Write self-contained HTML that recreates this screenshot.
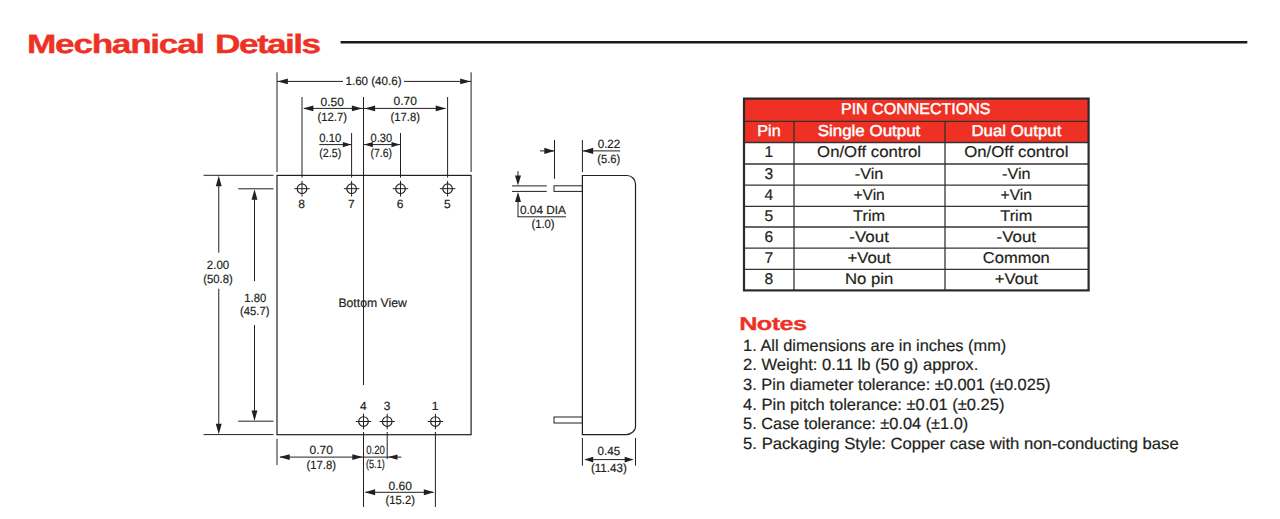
<!DOCTYPE html>
<html lang="en">
<head>
<meta charset="utf-8">
<title>Mechanical Details</title>
<style>
html,body{margin:0;padding:0;background:#fff;}
body{width:1280px;height:519px;overflow:hidden;}
svg{display:block;font-family:"Liberation Sans",sans-serif;}
svg text{white-space:pre;text-rendering:geometricPrecision;}
</style>
</head>
<body>
<svg width="1280" height="519" viewBox="0 0 1280 519">
<rect width="1280" height="519" fill="#ffffff"/>
<text transform="translate(27.1,53) scale(1.32,1)" font-size="26.7" font-weight="bold" fill="#ee3124" stroke="#ee3124" stroke-width="0.4" stroke-linejoin="round"><tspan letter-spacing="-1">Mechanical </tspan><tspan x="142.4" letter-spacing="-1.2">Details</tspan></text>
<line x1="340.6" y1="42.2" x2="1247.3" y2="42.2" stroke="#1a1a1a" stroke-width="2.4"/>
<rect x="277" y="175.4" width="194.1" height="259.3" fill="none" stroke="#231f20" stroke-width="1.2"/>
<line x1="277" y1="72.3" x2="277" y2="172" stroke="#231f20" stroke-width="1.0"/>
<line x1="471.1" y1="72.3" x2="471.1" y2="172" stroke="#231f20" stroke-width="1.0"/>
<line x1="277" y1="81.4" x2="343" y2="81.4" stroke="#231f20" stroke-width="1.0"/>
<line x1="404" y1="81.4" x2="471.1" y2="81.4" stroke="#231f20" stroke-width="1.0"/>
<polygon points="277.5,81.4 287.9,78.45 287.9,84.35" fill="#231f20"/>
<polygon points="470.6,81.4 460.2,78.45 460.2,84.35" fill="#231f20"/>
<text x="373.5" y="85.3" font-size="12" text-anchor="middle" fill="#231f20" textLength="56" lengthAdjust="spacingAndGlyphs" stroke="#231f20" stroke-width="0.2">1.60 (40.6)</text>
<circle cx="302" cy="188.7" r="4.8" fill="none" stroke="#231f20" stroke-width="1.15"/>
<line x1="294.3" y1="188.7" x2="309.7" y2="188.7" stroke="#231f20" stroke-width="1.0"/>
<line x1="302" y1="180.9" x2="302" y2="196.5" stroke="#231f20" stroke-width="1.0"/>
<circle cx="351.6" cy="188.7" r="4.8" fill="none" stroke="#231f20" stroke-width="1.15"/>
<line x1="343.9" y1="188.7" x2="359.3" y2="188.7" stroke="#231f20" stroke-width="1.0"/>
<line x1="351.6" y1="180.9" x2="351.6" y2="196.5" stroke="#231f20" stroke-width="1.0"/>
<circle cx="400.5" cy="188.7" r="4.8" fill="none" stroke="#231f20" stroke-width="1.15"/>
<line x1="392.8" y1="188.7" x2="408.2" y2="188.7" stroke="#231f20" stroke-width="1.0"/>
<line x1="400.5" y1="180.9" x2="400.5" y2="196.5" stroke="#231f20" stroke-width="1.0"/>
<circle cx="447.6" cy="188.7" r="4.8" fill="none" stroke="#231f20" stroke-width="1.15"/>
<line x1="439.9" y1="188.7" x2="455.3" y2="188.7" stroke="#231f20" stroke-width="1.0"/>
<line x1="447.6" y1="180.9" x2="447.6" y2="196.5" stroke="#231f20" stroke-width="1.0"/>
<line x1="302" y1="97" x2="302" y2="177.6" stroke="#231f20" stroke-width="1.0"/>
<line x1="447.6" y1="97" x2="447.6" y2="177.6" stroke="#231f20" stroke-width="1.0"/>
<line x1="351.6" y1="133" x2="351.6" y2="177.6" stroke="#231f20" stroke-width="1.0"/>
<line x1="400.5" y1="133" x2="400.5" y2="177.6" stroke="#231f20" stroke-width="1.0"/>
<line x1="363.5" y1="97" x2="363.5" y2="385" stroke="#231f20" stroke-width="1.0"/>
<line x1="304" y1="108.4" x2="445.6" y2="108.4" stroke="#231f20" stroke-width="1.0"/>
<polygon points="303,108.4 313.4,105.45 313.4,111.35" fill="#231f20"/>
<polygon points="362.3,108.4 351.9,105.45 351.9,111.35" fill="#231f20"/>
<polygon points="364.7,108.4 375.1,105.45 375.1,111.35" fill="#231f20"/>
<polygon points="446.1,108.4 435.7,105.45 435.7,111.35" fill="#231f20"/>
<text x="332.2" y="106" font-size="12" text-anchor="middle" fill="#231f20" stroke="#231f20" stroke-width="0.2">0.50</text>
<text x="332.2" y="121.3" font-size="12" text-anchor="middle" fill="#231f20" textLength="29.4" lengthAdjust="spacingAndGlyphs" stroke="#231f20" stroke-width="0.2">(12.7)</text>
<text x="405.2" y="105" font-size="12" text-anchor="middle" fill="#231f20" stroke="#231f20" stroke-width="0.2">0.70</text>
<text x="405.2" y="120.6" font-size="12" text-anchor="middle" fill="#231f20" textLength="29.4" lengthAdjust="spacingAndGlyphs" stroke="#231f20" stroke-width="0.2">(17.8)</text>
<line x1="319.3" y1="144.6" x2="351.6" y2="144.6" stroke="#231f20" stroke-width="1.0"/>
<polygon points="351.3,144.6 342.8,142.0 342.8,147.2" fill="#231f20"/>
<line x1="363.5" y1="144.6" x2="400.5" y2="144.6" stroke="#231f20" stroke-width="1.0"/>
<polygon points="364.3,144.6 372.8,142.0 372.8,147.2" fill="#231f20"/>
<polygon points="400.0,144.6 391.5,142.0 391.5,147.2" fill="#231f20"/>
<text x="330.3" y="142" font-size="12" text-anchor="middle" fill="#231f20" textLength="22" lengthAdjust="spacingAndGlyphs" stroke="#231f20" stroke-width="0.2">0.10</text>
<text x="330.3" y="157" font-size="12" text-anchor="middle" fill="#231f20" textLength="22" lengthAdjust="spacingAndGlyphs" stroke="#231f20" stroke-width="0.2">(2.5)</text>
<text x="381.3" y="142" font-size="12" text-anchor="middle" fill="#231f20" textLength="21.5" lengthAdjust="spacingAndGlyphs" stroke="#231f20" stroke-width="0.2">0.30</text>
<text x="381.3" y="157" font-size="12" text-anchor="middle" fill="#231f20" textLength="21.5" lengthAdjust="spacingAndGlyphs" stroke="#231f20" stroke-width="0.2">(7.6)</text>
<text x="301.7" y="208.1" font-size="12" text-anchor="middle" fill="#231f20" stroke="#231f20" stroke-width="0.2">8</text>
<text x="351.3" y="208.1" font-size="12" text-anchor="middle" fill="#231f20" stroke="#231f20" stroke-width="0.2">7</text>
<text x="400.2" y="208.1" font-size="12" text-anchor="middle" fill="#231f20" stroke="#231f20" stroke-width="0.2">6</text>
<text x="447.3" y="208.1" font-size="12" text-anchor="middle" fill="#231f20" stroke="#231f20" stroke-width="0.2">5</text>
<line x1="203.6" y1="175.3" x2="273.5" y2="175.3" stroke="#231f20" stroke-width="1.0"/>
<line x1="203.6" y1="434.6" x2="273.5" y2="434.6" stroke="#231f20" stroke-width="1.0"/>
<line x1="238.2" y1="188.8" x2="273.5" y2="188.8" stroke="#231f20" stroke-width="1.0"/>
<line x1="238.2" y1="421.2" x2="273.5" y2="421.2" stroke="#231f20" stroke-width="1.0"/>
<line x1="218.75" y1="180" x2="218.75" y2="252.7" stroke="#231f20" stroke-width="1.0"/>
<line x1="218.75" y1="288.75" x2="218.75" y2="430" stroke="#231f20" stroke-width="1.0"/>
<polygon points="218.75,175.8 215.8,186.2 221.7,186.2" fill="#231f20"/>
<polygon points="218.75,434.2 215.8,423.8 221.7,423.8" fill="#231f20"/>
<line x1="254.5" y1="193" x2="254.5" y2="281.2" stroke="#231f20" stroke-width="1.0"/>
<line x1="254.5" y1="325" x2="254.5" y2="416" stroke="#231f20" stroke-width="1.0"/>
<polygon points="254.5,189.3 251.55,199.7 257.45,199.7" fill="#231f20"/>
<polygon points="254.5,421 251.55,410.6 257.45,410.6" fill="#231f20"/>
<text x="218" y="269.4" font-size="12" text-anchor="middle" fill="#231f20" textLength="22.3" lengthAdjust="spacingAndGlyphs" stroke="#231f20" stroke-width="0.2">2.00</text>
<text x="218" y="283.3" font-size="12" text-anchor="middle" fill="#231f20" textLength="29.4" lengthAdjust="spacingAndGlyphs" stroke="#231f20" stroke-width="0.2">(50.8)</text>
<text x="255.3" y="301.6" font-size="12" text-anchor="middle" fill="#231f20" textLength="22" lengthAdjust="spacingAndGlyphs" stroke="#231f20" stroke-width="0.2">1.80</text>
<text x="254.8" y="315.3" font-size="12" text-anchor="middle" fill="#231f20" textLength="29.4" lengthAdjust="spacingAndGlyphs" stroke="#231f20" stroke-width="0.2">(45.7)</text>
<text x="372.6" y="306.8" font-size="12.4" text-anchor="middle" fill="#231f20" textLength="68.3" lengthAdjust="spacingAndGlyphs" stroke="#231f20" stroke-width="0.2">Bottom View</text>
<circle cx="363.5" cy="421.5" r="4.8" fill="none" stroke="#231f20" stroke-width="1.15"/>
<line x1="355.8" y1="421.5" x2="371.2" y2="421.5" stroke="#231f20" stroke-width="1.0"/>
<line x1="363.5" y1="413.7" x2="363.5" y2="429.3" stroke="#231f20" stroke-width="1.0"/>
<circle cx="387.2" cy="421.5" r="4.8" fill="none" stroke="#231f20" stroke-width="1.15"/>
<line x1="379.5" y1="421.5" x2="394.9" y2="421.5" stroke="#231f20" stroke-width="1.0"/>
<line x1="387.2" y1="413.7" x2="387.2" y2="429.3" stroke="#231f20" stroke-width="1.0"/>
<circle cx="435.4" cy="421.5" r="4.8" fill="none" stroke="#231f20" stroke-width="1.15"/>
<line x1="427.7" y1="421.5" x2="443.1" y2="421.5" stroke="#231f20" stroke-width="1.0"/>
<line x1="435.4" y1="413.7" x2="435.4" y2="429.3" stroke="#231f20" stroke-width="1.0"/>
<text x="363.3" y="410.2" font-size="12" text-anchor="middle" fill="#231f20" stroke="#231f20" stroke-width="0.2">4</text>
<text x="387.0" y="410.2" font-size="12" text-anchor="middle" fill="#231f20" stroke="#231f20" stroke-width="0.2">3</text>
<text x="435.2" y="410.2" font-size="12" text-anchor="middle" fill="#231f20" stroke="#231f20" stroke-width="0.2">1</text>
<line x1="363.5" y1="432" x2="363.5" y2="507" stroke="#231f20" stroke-width="1.0"/>
<line x1="435.4" y1="432" x2="435.4" y2="507" stroke="#231f20" stroke-width="1.0"/>
<line x1="387.2" y1="432" x2="387.2" y2="459" stroke="#231f20" stroke-width="1.0"/>
<line x1="277" y1="438.75" x2="277" y2="465" stroke="#231f20" stroke-width="1.0"/>
<line x1="280" y1="457.1" x2="387.2" y2="457.1" stroke="#231f20" stroke-width="1.0"/>
<polygon points="279.3,457.1 289.7,454.15 289.7,460.05" fill="#231f20"/>
<polygon points="362.7,457.1 352.3,454.15 352.3,460.05" fill="#231f20"/>
<polygon points="388.0,457.1 397.5,454.5 397.5,459.7" fill="#231f20"/>
<line x1="387.2" y1="457.1" x2="401.3" y2="457.1" stroke="#231f20" stroke-width="1.0"/>
<text x="321.25" y="454.4" font-size="12" text-anchor="middle" fill="#231f20" stroke="#231f20" stroke-width="0.2">0.70</text>
<text x="321.25" y="469.4" font-size="12" text-anchor="middle" fill="#231f20" textLength="29.4" lengthAdjust="spacingAndGlyphs" stroke="#231f20" stroke-width="0.2">(17.8)</text>
<text x="375.6" y="454.1" font-size="12" text-anchor="middle" fill="#231f20" textLength="18.75" lengthAdjust="spacingAndGlyphs" stroke="#231f20" stroke-width="0.2">0.20</text>
<text x="375.4" y="468.4" font-size="12" text-anchor="middle" fill="#231f20" textLength="18.75" lengthAdjust="spacingAndGlyphs" stroke="#231f20" stroke-width="0.2">(5.1)</text>
<line x1="365.5" y1="492.3" x2="433.4" y2="492.3" stroke="#231f20" stroke-width="1.0"/>
<polygon points="364.7,492.3 375.1,489.35 375.1,495.25" fill="#231f20"/>
<polygon points="434.2,492.3 423.8,489.35 423.8,495.25" fill="#231f20"/>
<text x="400.2" y="490.2" font-size="12" text-anchor="middle" fill="#231f20" stroke="#231f20" stroke-width="0.2">0.60</text>
<text x="400.2" y="504.4" font-size="12" text-anchor="middle" fill="#231f20" textLength="29.4" lengthAdjust="spacingAndGlyphs" stroke="#231f20" stroke-width="0.2">(15.2)</text>
<path d="M582.4,175.5 H627.0 C631.69,175.5 635.5,179.31 635.5,184.0 V427.1 C635.5,430.3 631.6,434.6 626.0,434.6 H582.4 Z" fill="none" stroke="#231f20" stroke-width="1.2"/>
<rect x="554" y="185.8" width="28.4" height="5.6" fill="none" stroke="#231f20" stroke-width="1"/>
<rect x="554" y="417" width="28.4" height="6" fill="none" stroke="#231f20" stroke-width="1"/>
<line x1="554.5" y1="140" x2="554.5" y2="178.8" stroke="#231f20" stroke-width="1.0"/>
<line x1="582.4" y1="140" x2="582.4" y2="172.2" stroke="#231f20" stroke-width="1.0"/>
<line x1="540" y1="150.9" x2="554" y2="150.9" stroke="#231f20" stroke-width="1.0"/>
<polygon points="554.3,150.9 544.3,147.8 544.3,154.0" fill="#231f20"/>
<line x1="582.4" y1="150.9" x2="620.2" y2="150.9" stroke="#231f20" stroke-width="1.0"/>
<polygon points="582.7,150.9 593.2,147.8 593.2,154.0" fill="#231f20"/>
<text x="609" y="148" font-size="12" text-anchor="middle" fill="#231f20" textLength="22.6" lengthAdjust="spacingAndGlyphs" stroke="#231f20" stroke-width="0.2">0.22</text>
<text x="608.7" y="163" font-size="12" text-anchor="middle" fill="#231f20" textLength="23" lengthAdjust="spacingAndGlyphs" stroke="#231f20" stroke-width="0.2">(5.6)</text>
<line x1="512" y1="185.9" x2="546.75" y2="185.9" stroke="#231f20" stroke-width="1.0"/>
<line x1="512" y1="191.4" x2="546.75" y2="191.4" stroke="#231f20" stroke-width="1.0"/>
<line x1="518" y1="171.2" x2="518" y2="180" stroke="#231f20" stroke-width="1.0"/>
<polygon points="518,185.4 515.0,175.6 521.0,175.6" fill="#231f20"/>
<polygon points="518,191.9 515.0,201.9 521.0,201.9" fill="#231f20"/>
<line x1="518" y1="196" x2="518" y2="216.8" stroke="#231f20" stroke-width="1.0"/>
<line x1="517.5" y1="216.8" x2="566" y2="216.8" stroke="#231f20" stroke-width="1.0"/>
<text x="543" y="214" font-size="12" text-anchor="middle" fill="#231f20" textLength="46" lengthAdjust="spacingAndGlyphs" stroke="#231f20" stroke-width="0.2">0.04 DIA</text>
<text x="543" y="228.3" font-size="12" text-anchor="middle" fill="#231f20" textLength="23.2" lengthAdjust="spacingAndGlyphs" stroke="#231f20" stroke-width="0.2">(1.0)</text>
<line x1="582.4" y1="438" x2="582.4" y2="465.7" stroke="#231f20" stroke-width="1.0"/>
<line x1="635.5" y1="438" x2="635.5" y2="465.7" stroke="#231f20" stroke-width="1.0"/>
<line x1="585.4" y1="459.6" x2="632.5" y2="459.6" stroke="#231f20" stroke-width="1.0"/>
<polygon points="584.4,459.6 593.2,456.8 593.2,462.4" fill="#231f20"/>
<polygon points="633.5,459.6 624.7,456.8 624.7,462.4" fill="#231f20"/>
<text x="608.9" y="454.8" font-size="12" text-anchor="middle" fill="#231f20" textLength="22.6" lengthAdjust="spacingAndGlyphs" stroke="#231f20" stroke-width="0.2">0.45</text>
<text x="608.9" y="472" font-size="12" text-anchor="middle" fill="#231f20" textLength="36" lengthAdjust="spacingAndGlyphs" stroke="#231f20" stroke-width="0.2">(11.43)</text>
<rect x="744" y="98.6" width="344.6" height="43.9" fill="#ee3124"/>
<line x1="744" y1="121.3" x2="1088.6" y2="121.3" stroke="#363233" stroke-width="1.3"/>
<line x1="744" y1="142.5" x2="1088.6" y2="142.5" stroke="#363233" stroke-width="1.3"/>
<line x1="744" y1="164" x2="1088.6" y2="164" stroke="#363233" stroke-width="1.3"/>
<line x1="744" y1="185.1" x2="1088.6" y2="185.1" stroke="#363233" stroke-width="1.3"/>
<line x1="744" y1="206.3" x2="1088.6" y2="206.3" stroke="#363233" stroke-width="1.3"/>
<line x1="744" y1="227" x2="1088.6" y2="227" stroke="#363233" stroke-width="1.3"/>
<line x1="744" y1="248.2" x2="1088.6" y2="248.2" stroke="#363233" stroke-width="1.3"/>
<line x1="744" y1="269.4" x2="1088.6" y2="269.4" stroke="#363233" stroke-width="1.3"/>
<line x1="794" y1="121.3" x2="794" y2="290.4" stroke="#363233" stroke-width="1.3"/>
<line x1="945" y1="121.3" x2="945" y2="290.4" stroke="#363233" stroke-width="1.3"/>
<rect x="744" y="98.6" width="344.6" height="191.8" fill="none" stroke="#2d292a" stroke-width="2.2"/>
<text x="915.75" y="114" font-size="15.7" text-anchor="middle" fill="#fff" textLength="149.6" lengthAdjust="spacingAndGlyphs" stroke="#ffffff" stroke-width="0.45">PIN CONNECTIONS</text>
<text x="769" y="136" font-size="15.7" text-anchor="middle" fill="#fff" textLength="23.4" lengthAdjust="spacingAndGlyphs" stroke="#ffffff" stroke-width="0.45">Pin</text>
<text x="869" y="136" font-size="15.7" text-anchor="middle" fill="#fff" textLength="102.6" lengthAdjust="spacingAndGlyphs" stroke="#ffffff" stroke-width="0.45">Single Output</text>
<text x="1016.4" y="136" font-size="15.7" text-anchor="middle" fill="#fff" textLength="89.9" lengthAdjust="spacingAndGlyphs" stroke="#ffffff" stroke-width="0.45">Dual Output</text>
<text x="768.75" y="157" font-size="15.6" text-anchor="middle" fill="#231f20" stroke="#231f20" stroke-width="0.2">1</text>
<text x="869.1" y="157" font-size="15.6" text-anchor="middle" fill="#231f20" textLength="104" lengthAdjust="spacingAndGlyphs" stroke="#231f20" stroke-width="0.2">On/Off control</text>
<text x="1016.3" y="157" font-size="15.6" text-anchor="middle" fill="#231f20" textLength="104.2" lengthAdjust="spacingAndGlyphs" stroke="#231f20" stroke-width="0.2">On/Off control</text>
<text x="768.75" y="179" font-size="15.6" text-anchor="middle" fill="#231f20" stroke="#231f20" stroke-width="0.2">3</text>
<text x="869.1" y="179" font-size="15.6" text-anchor="middle" fill="#231f20" textLength="28.6" lengthAdjust="spacingAndGlyphs" stroke="#231f20" stroke-width="0.2">-Vin</text>
<text x="1016.3" y="179" font-size="15.6" text-anchor="middle" fill="#231f20" textLength="28.6" lengthAdjust="spacingAndGlyphs" stroke="#231f20" stroke-width="0.2">-Vin</text>
<text x="768.75" y="200" font-size="15.6" text-anchor="middle" fill="#231f20" stroke="#231f20" stroke-width="0.2">4</text>
<text x="869.1" y="200" font-size="15.6" text-anchor="middle" fill="#231f20" textLength="31.4" lengthAdjust="spacingAndGlyphs" stroke="#231f20" stroke-width="0.2">+Vin</text>
<text x="1016.3" y="200" font-size="15.6" text-anchor="middle" fill="#231f20" textLength="31.4" lengthAdjust="spacingAndGlyphs" stroke="#231f20" stroke-width="0.2">+Vin</text>
<text x="768.75" y="221" font-size="15.6" text-anchor="middle" fill="#231f20" stroke="#231f20" stroke-width="0.2">5</text>
<text x="869.1" y="221" font-size="15.6" text-anchor="middle" fill="#231f20" textLength="32" lengthAdjust="spacingAndGlyphs" stroke="#231f20" stroke-width="0.2">Trim</text>
<text x="1016.3" y="221" font-size="15.6" text-anchor="middle" fill="#231f20" textLength="32" lengthAdjust="spacingAndGlyphs" stroke="#231f20" stroke-width="0.2">Trim</text>
<text x="768.75" y="242" font-size="15.6" text-anchor="middle" fill="#231f20" stroke="#231f20" stroke-width="0.2">6</text>
<text x="869.1" y="242" font-size="15.6" text-anchor="middle" fill="#231f20" textLength="39.5" lengthAdjust="spacingAndGlyphs" stroke="#231f20" stroke-width="0.2">-Vout</text>
<text x="1016.3" y="242" font-size="15.6" text-anchor="middle" fill="#231f20" textLength="39.5" lengthAdjust="spacingAndGlyphs" stroke="#231f20" stroke-width="0.2">-Vout</text>
<text x="768.75" y="263" font-size="15.6" text-anchor="middle" fill="#231f20" stroke="#231f20" stroke-width="0.2">7</text>
<text x="869.1" y="263" font-size="15.6" text-anchor="middle" fill="#231f20" textLength="43.2" lengthAdjust="spacingAndGlyphs" stroke="#231f20" stroke-width="0.2">+Vout</text>
<text x="1016.3" y="263" font-size="15.6" text-anchor="middle" fill="#231f20" textLength="67" lengthAdjust="spacingAndGlyphs" stroke="#231f20" stroke-width="0.2">Common</text>
<text x="768.75" y="284" font-size="15.6" text-anchor="middle" fill="#231f20" stroke="#231f20" stroke-width="0.2">8</text>
<text x="869.1" y="284" font-size="15.6" text-anchor="middle" fill="#231f20" textLength="48.4" lengthAdjust="spacingAndGlyphs" stroke="#231f20" stroke-width="0.2">No pin</text>
<text x="1016.3" y="284" font-size="15.6" text-anchor="middle" fill="#231f20" textLength="43.2" lengthAdjust="spacingAndGlyphs" stroke="#231f20" stroke-width="0.2">+Vout</text>
<text transform="translate(739.2,330) scale(1.36,1)" font-size="18.6" font-weight="bold" fill="#ee3124" stroke="#ee3124" stroke-width="0.3" stroke-linejoin="round" letter-spacing="-0.45">Notes</text>
<text x="743.1" y="351" font-size="16.3" text-anchor="start" fill="#231f20" textLength="263.15" lengthAdjust="spacingAndGlyphs" stroke="#231f20" stroke-width="0.2">1. All dimensions are in inches (mm)</text>
<text x="743.1" y="370" font-size="16.3" text-anchor="start" fill="#231f20" textLength="235.15" lengthAdjust="spacingAndGlyphs" stroke="#231f20" stroke-width="0.2">2. Weight: 0.11 lb (50 g) approx.</text>
<text x="743.1" y="390" font-size="16.3" text-anchor="start" fill="#231f20" textLength="307.4" lengthAdjust="spacingAndGlyphs" stroke="#231f20" stroke-width="0.2">3. Pin diameter tolerance: ±0.001 (±0.025)</text>
<text x="743.1" y="410" font-size="16.3" text-anchor="start" fill="#231f20" textLength="261.4" lengthAdjust="spacingAndGlyphs" stroke="#231f20" stroke-width="0.2">4. Pin pitch tolerance: ±0.01 (±0.25)</text>
<text x="743.1" y="429" font-size="16.3" text-anchor="start" fill="#231f20" textLength="225.15" lengthAdjust="spacingAndGlyphs" stroke="#231f20" stroke-width="0.2">5. Case tolerance: ±0.04 (±1.0)</text>
<text x="743.1" y="449" font-size="16.3" text-anchor="start" fill="#231f20" textLength="435.65" lengthAdjust="spacingAndGlyphs" stroke="#231f20" stroke-width="0.2">5. Packaging Style: Copper case with non-conducting base</text>
</svg>
</body>
</html>
